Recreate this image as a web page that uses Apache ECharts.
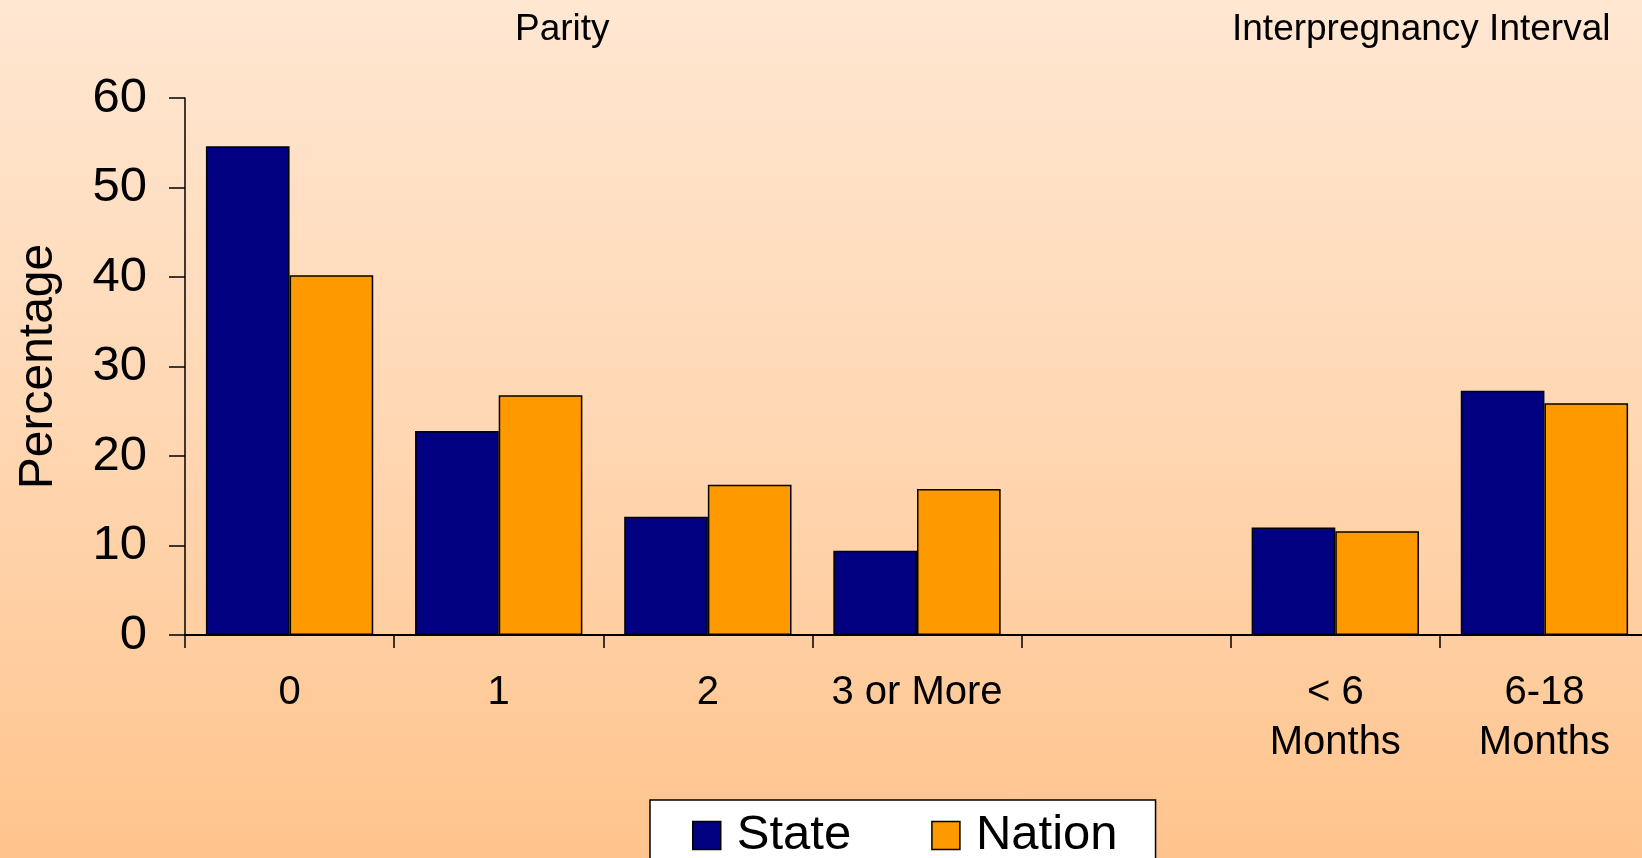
<!DOCTYPE html>
<html>
<head>
<meta charset="utf-8">
<script src="https://cdn.jsdelivr.net/npm/echarts@6/dist/echarts.min.js"></script>
<style>
  html, body { margin: 0; padding: 0; }
  #chart {
    width: 1642px; height: 858px;
    background: linear-gradient(to bottom, #FFE7D2 0%, #FFD7B3 50%, #FFC48D 100%);
  }
</style>
</head>
<body>
<div id="chart"></div>
<script>
// Categories: parity groups, a spacer, then interpregnancy interval groups
const categories = ['0', '1', '2', '3 or More', '', '< 6\nMonths', '6-18\nMonths'];
const stateValues = [54.6, 22.8, 13.2, 9.4, null, 12.0, 27.3];
const nationValues = [40.2, 26.8, 16.8, 16.3, null, 11.6, 25.9];
const yTicks = { min: 0, max: 60, interval: 10 };
const groupTitles = ['Parity', 'Interpregnancy Interval'];

const FONT = '"Liberation Sans", Arial, sans-serif';

const chart = echarts.init(document.getElementById('chart'), null, { renderer: 'canvas' });

chart.setOption({
  backgroundColor: 'transparent',
  animation: false,
  textStyle: { fontFamily: FONT, color: '#000' },
  // the last category runs slightly past the right edge of the canvas
  grid: { left: 185, top: 98, width: 1464, height: 537, containLabel: false, outerBoundsMode: 'none' },
  graphic: [
    { type: 'text', left: 515, top: 11,
      style: { text: groupTitles[0], font: '37px ' + FONT, fill: '#000' } },
    { type: 'text', left: 1232, top: 11,
      style: { text: groupTitles[1], font: '37px ' + FONT, fill: '#000' } }
  ],
  legend: {
    data: ['State', 'Nation'],
    left: 650,
    top: 800,
    orient: 'horizontal',
    backgroundColor: '#FFFFFF',
    borderColor: '#000',
    borderWidth: 1.5,
    borderRadius: 0,
    padding: [11, 38, 8, 42],
    itemWidth: 28,
    itemHeight: 28,
    itemGap: 80,
    icon: 'rect',
    itemStyle: { borderColor: '#000', borderWidth: 1.5 },
    textStyle: { fontSize: 49, fontFamily: FONT, color: '#000', padding: [0, 0, 0, 11] }
  },
  xAxis: {
    type: 'category',
    data: categories,
    boundaryGap: true,
    axisLine: { show: true, lineStyle: { color: '#000', width: 2 } },
    axisTick: { show: true, alignWithLabel: false, length: 13, lineStyle: { color: '#000', width: 1.5 } },
    axisLabel: { fontSize: 40, lineHeight: 50, margin: 33, color: '#000', fontFamily: FONT, interval: 0 },
    splitLine: { show: false }
  },
  yAxis: {
    type: 'value',
    min: yTicks.min,
    max: yTicks.max,
    interval: yTicks.interval,
    name: 'Percentage',
    nameLocation: 'middle',
    nameGap: 122,
    nameTextStyle: { fontSize: 48, color: '#000', fontFamily: FONT },
    axisLine: { show: true, lineStyle: { color: '#000', width: 1.5 } },
    axisTick: { show: true, length: 16, lineStyle: { color: '#000', width: 1.5 } },
    axisLabel: { fontSize: 49, margin: 38, color: '#000', fontFamily: FONT },
    splitLine: { show: false }
  },
  series: [
    {
      name: 'State',
      type: 'bar',
      data: stateValues,
      barGap: '0%',
      barCategoryGap: '20%',
      itemStyle: { color: '#000080', borderColor: '#000', borderWidth: 1.5 }
    },
    {
      name: 'Nation',
      type: 'bar',
      data: nationValues,
      barGap: '0%',
      barCategoryGap: '20%',
      itemStyle: { color: '#FF9900', borderColor: '#000', borderWidth: 1.5 }
    }
  ]
});
</script>
</body>
</html>
